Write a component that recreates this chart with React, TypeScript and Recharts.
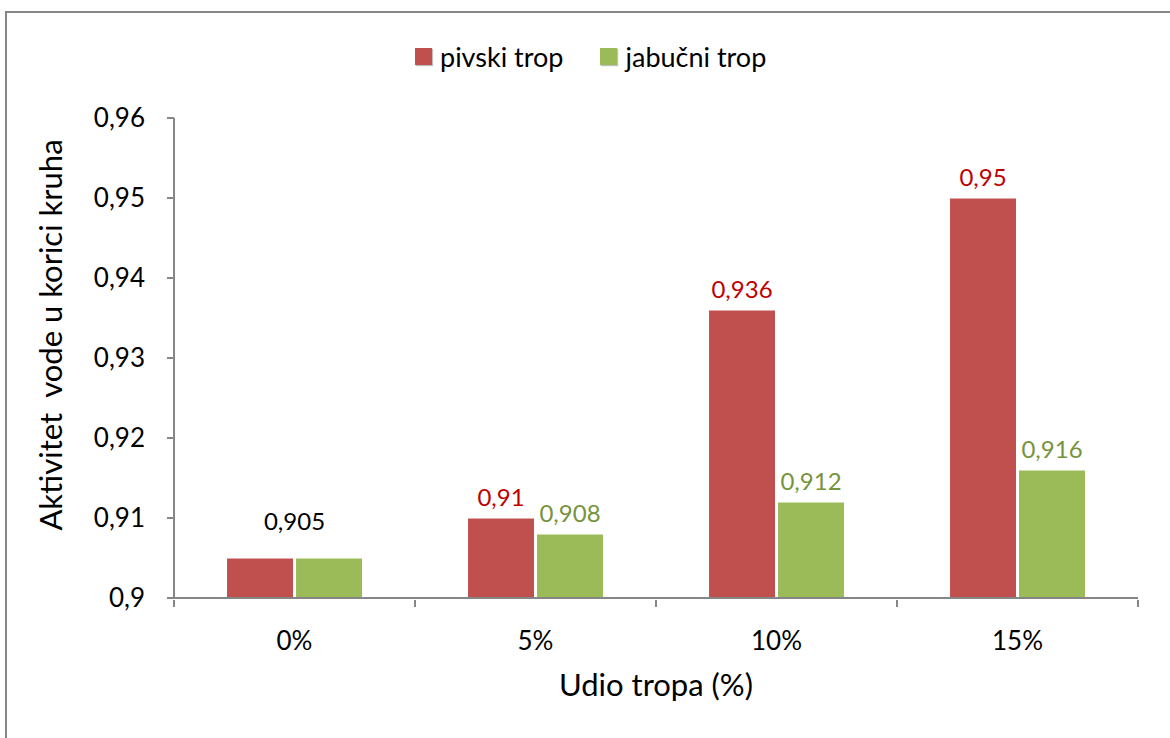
import { BarChart, Bar, XAxis, YAxis, LabelList } from "recharts";

const categories = ["0%", "5%", "10%", "15%"];
const pivskiTrop = [0.905, 0.91, 0.936, 0.95];
const jabucniTrop = [0.905, 0.908, 0.912, 0.916];
const yTicks = [0.9, 0.91, 0.92, 0.93, 0.94, 0.95, 0.96];

const data = categories.map((cat, i) => ({
  cat,
  pivski: pivskiTrop[i],
  jabucni: jabucniTrop[i],
}));

const RED = "#C0504D";
const GREEN = "#9BBB59";
const AXIS = "#868686";
const FONT = "Lato, 'Open Sans', sans-serif";

const fmt = (v: number) => String(v).replace(".", ",");

function XTick(props: any) {
  const { x, y, payload, index } = props;
  const off = payload.offset || 0;
  const axisY = y - 6;
  return (
    <g>
      <line x1={x - off} y1={axisY} x2={x - off} y2={axisY + 7} stroke={AXIS} strokeWidth={2} />
      {index === categories.length - 1 && (
        <line x1={x + off} y1={axisY} x2={x + off} y2={axisY + 7} stroke={AXIS} strokeWidth={2} />
      )}
      <text x={x} y={y + 44} textAnchor="middle" fontSize={26} fill="#000" fontFamily={FONT}>
        {payload.value}
      </text>
    </g>
  );
}

function YTitle() {
  const cx = 50;
  const cy = 335;
  return (
    <text
      x={cx}
      y={cy}
      transform={`rotate(-90, ${cx}, ${cy})`}
      textAnchor="middle"
      dominantBaseline="central"
      fontSize={31}
      fill="#000"
      fontFamily={FONT}
    >
      {"Aktivitet\u00a0 vode u korici kruha"}
    </text>
  );
}

function PivskiLabel(props: any) {
  const { x, y, width, value, index } = props;
  if (index === 0) return null;
  return (
    <text x={x + width / 2} y={y - 12} textAnchor="middle" fontSize={24} fill="#C00000" fontFamily={FONT}>
      {fmt(value)}
    </text>
  );
}

function JabucniLabel(props: any) {
  const { x, y, width, value, index } = props;
  if (index === 0) {
    return (
      <text x={x - 1} y={y - 28} textAnchor="middle" fontSize={24} fill="#000" fontFamily={FONT}>
        {fmt(value)}
      </text>
    );
  }
  return (
    <text x={x + width / 2} y={y - 12} textAnchor="middle" fontSize={24} fill="#77933C" fontFamily={FONT}>
      {fmt(value)}
    </text>
  );
}

const legendItems = [
  { name: "pivski trop", color: RED },
  { name: "jabučni trop", color: GREEN },
];

export default function App() {
  return (
    <div
      style={{
        position: "absolute",
        left: 0,
        top: 0,
        width: 1170,
        height: 738,
        background: "#fff",
        overflow: "hidden",
        fontFamily: FONT,
      }}
    >
      <div
        style={{
          position: "absolute",
          left: 5,
          top: 11,
          width: 1300,
          height: 900,
          border: `2px solid ${AXIS}`,
        }}
      />
      <div
        style={{
          position: "absolute",
          top: 40,
          left: 415,
          display: "flex",
          alignItems: "center",
          fontSize: 27,
          color: "#000",
        }}
      >
        {legendItems.map((it, i) => (
          <div key={it.name} style={{ display: "flex", alignItems: "center", marginRight: i === 0 ? 37 : 0 }}>
            <span
              style={{
                width: 17,
                height: 17,
                background: it.color,
                display: "inline-block",
                marginRight: 8,
                boxShadow: "1px 1px 1px rgba(0,0,0,0.25)",
              }}
            />
            <span>{it.name}</span>
          </div>
        ))}
      </div>
      <div style={{ position: "absolute", left: 0, top: 0 }}>
        <BarChart
          width={1170}
          height={738}
          data={data}
          margin={{ top: 118, right: 32, bottom: 100, left: 94 }}
          barCategoryGap="21.8%"
          barGap={2}
        >
          <XAxis
            dataKey="cat"
            height={40}
            axisLine={{ stroke: AXIS, strokeWidth: 2 }}
            tickLine={false}
            tick={<XTick />}
            label={{
              value: "Udio tropa (%)",
              position: "insideBottom",
              offset: -58,
              fontSize: 31,
              fill: "#000",
              fontFamily: FONT,
            }}
          />
          <YAxis
            width={80}
            domain={[0.9, 0.96]}
            ticks={yTicks}
            tickFormatter={fmt}
            axisLine={{ stroke: AXIS, strokeWidth: 2 }}
            tickLine={{ stroke: AXIS, strokeWidth: 2 }}
            tickSize={7}
            tickMargin={22}
            tick={{ fontSize: 26, fill: "#000", fontFamily: FONT }}
            label={<YTitle />}
          />
          <Bar dataKey="pivski" fill={RED} stroke="#fff" strokeWidth={1} isAnimationActive={false}>
            <LabelList dataKey="pivski" content={<PivskiLabel />} />
          </Bar>
          <Bar dataKey="jabucni" fill={GREEN} stroke="#fff" strokeWidth={1} isAnimationActive={false}>
            <LabelList dataKey="jabucni" content={<JabucniLabel />} />
          </Bar>
        </BarChart>
      </div>
    </div>
  );
}
